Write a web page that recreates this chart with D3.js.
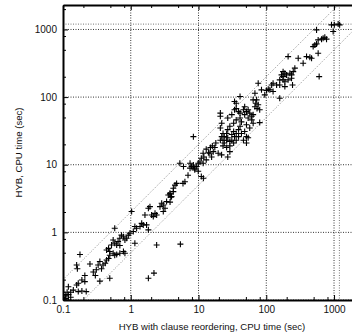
<!DOCTYPE html>
<html lang="en">
<head>
<meta charset="UTF-8">
<title>HYB scatter</title>
<script src="https://d3js.org/d3.v7.min.js" charset="utf-8"></script>
<style>
  body { margin: 0; background: #fff; overflow: hidden; }
  text { font-family: "Liberation Sans", Arial, sans-serif; }
</style>
</head>
<body>
<script>
// CPU times (sec): x = HYB with clause reordering, y = plain HYB
var reorderTimes = [
  0.1, 0.105, 0.11, 0.12, 0.1, 0.11, 0.1, 0.12, 0.13, 0.115, 0.1, 0.13, 0.12, 0.142, 0.168, 0.19, 0.22,
  0.168, 0.19, 0.21, 0.159, 0.178, 0.159, 0.163, 0.21, 0.25,
  0.28, 0.30, 0.31, 0.33, 0.35, 0.37, 0.39, 0.42, 0.44, 0.47, 0.49, 0.35, 0.49,
  0.44, 0.47, 0.49, 0.55, 0.58, 0.62, 0.58,
  0.55, 0.58, 0.62, 0.65, 0.69, 0.52,
  0.69, 0.78, 0.82,
  0.69, 0.73, 0.78, 0.82, 0.87, 0.92, 0.97,
  1.09, 1.22, 1.15, 1.37, 1.45, 1.53,
  1.03, 1.15, 1.71, 1.82, 1.82, 1.92,
  1.62, 2.03, 2.15, 2.28, 2.41,
  1.82, 2.2, 2.41,
  2.70, 2.86, 3.02, 3.20, 3.38, 3.02,
  3.58, 3.79, 4.0, 4.25, 4.5, 4.75, 4.25,
  3.8, 3.9, 3.8, 5.4,
  5.9, 6.3, 7.0, 7.5, 8.4, 8.8, 9.9, 11, 11.8,
  5.3, 7.5, 6.0,
  34, 36, 39, 41, 46, 48, 51, 54, 57, 61, 64, 68, 72, 70, 73, 80, 76, 64,
  54, 41, 43, 36, 33, 29, 27, 26, 24, 23, 27, 31, 33, 39, 41, 43, 48, 51, 57, 64, 61, 51,
  46, 36, 33, 29, 26, 23, 21, 21, 22, 21, 18, 16, 15, 13, 14, 12, 11, 10.5, 9.9, 9.4, 8.8,
  7.9, 8.4, 11.7, 13, 15.6, 16.5, 19.5, 21.9, 27, 29, 51, 54, 27, 31, 34, 80, 8.4, 21,
  23, 26, 24, 31, 34, 22, 36, 39, 29, 11.7, 14.7, 17.4,
  41, 76, 85, 36, 48, 68,
  95, 101, 107, 113, 120, 126, 126,
  142, 158, 158, 177, 188, 210, 236, 177, 168, 177, 188, 199, 223, 236, 250, 244, 188,
  158, 210, 296, 350, 264, 393, 440, 466,
  492, 521, 552, 583, 583, 603,
  654, 690, 731, 775, 552, 970,
  918, 1010, 1150, 1210
];
var hybTimes = [
  0.1, 0.1, 0.105, 0.1, 0.11, 0.115, 0.12, 0.12, 0.11, 0.13, 0.13, 0.13, 0.157, 0.14, 0.133, 0.136, 0.133,
  0.177, 0.198, 0.187, 0.167, 0.47, 0.33, 0.29, 0.23, 0.34,
  0.26, 0.23, 0.28, 0.33, 0.37, 0.29, 0.33, 0.35, 0.39, 0.41, 0.46, 0.19, 0.21,
  0.55, 0.58, 0.52, 0.49, 0.46, 0.47, 1.15,
  0.77, 0.69, 0.65, 0.73, 0.64, 0.65,
  0.49, 0.52, 0.49,
  0.82, 0.91, 0.86, 0.77, 0.82, 0.91, 0.97,
  1.03, 1.15, 1.22, 1.22, 1.36, 1.29,
  2.03, 0.69, 1.29, 1.09, 2.27, 2.40,
  1.81, 1.81, 1.71, 1.91, 1.81,
  0.21, 0.25, 0.65,
  2.40, 2.69, 2.54, 2.27, 2.85, 2.03,
  3.57, 3.79, 3.38, 4.0, 5.0, 5.3, 4.5,
  3.7, 3.3, 2.8, 0.67,
  5.3, 5.6, 7.0, 8.9, 9.4, 8.4, 8.0, 6.7, 6.3,
  10.5, 10.5, 9.4,
  65, 68, 61, 58, 65, 55, 61, 65, 58, 52, 55, 72, 91, 81, 68, 65, 77, 91,
  49, 49, 43, 46, 41, 37, 33, 29, 26, 23, 25, 28, 31, 33, 37, 29, 31, 26, 35, 41, 46, 39,
  23, 23, 21, 19, 18, 19, 23, 52, 41, 35, 21, 19, 18, 17, 15, 13, 12.5, 11, 10.5, 9.4, 8.9,
  9.4, 9.9, 10.5, 11.8, 13, 15.6, 14.8, 14, 13, 15.6, 21, 25, 49, 55, 86, 42, 26, 58,
  29, 23, 21, 23, 26, 26, 29, 26, 22, 14.8, 14.8, 18,
  102, 160, 128, 81, 72, 114,
  108, 125, 131, 128, 151, 160, 121,
  151, 151, 180, 180, 169, 180, 190, 201, 213, 238, 225, 213, 225, 213, 238, 151, 143,
  96, 397, 376, 317, 268, 397, 389, 376,
  558, 591, 612, 701, 446, 201,
  719, 743, 769, 719, 986, 931,
  1170, 1170, 1200, 1170
];

var majorTicks = [0.1, 1, 10, 100, 1000];
var tickLabels = ["0.1", "1", "10", "100", "1000"];
var minorTicks = [0.2, 0.5, 0.8, 2, 5, 8, 20, 50, 80, 200, 500, 800, 2000];
var timeoutSec = 1200;
var ratioLines = [2, 0.5];

var W = 352, H = 335;
var pLeft = 63, pTop = 5, pRight = 361, pBottom = 300;

var x = d3.scaleLog().domain([0.1, 2500]).range([pLeft, pRight]);
var y = d3.scaleLog().domain([0.1, 2300]).range([pBottom, pTop]);

var svg = d3.select("body").append("svg")
    .attr("width", W)
    .attr("height", H);

svg.append("clipPath").attr("id", "plot")
  .append("rect")
    .attr("x", pLeft).attr("y", pTop)
    .attr("width", pRight - pLeft).attr("height", pBottom - pTop);

var plot = svg.append("g").attr("clip-path", "url(#plot)");

// grid
majorTicks.forEach(function (t) {
  plot.append("line")
      .attr("x1", pLeft).attr("x2", pRight)
      .attr("y1", y(t)).attr("y2", y(t))
      .attr("stroke", "#000").attr("stroke-width", 0.8)
      .attr("stroke-dasharray", "1,1.5");
  plot.append("line")
      .attr("x1", x(t)).attr("x2", x(t))
      .attr("y1", pTop).attr("y2", pBottom)
      .attr("stroke", "#000").attr("stroke-width", 0.8)
      .attr("stroke-dasharray", "1,1.5");
});

// timeout lines
plot.append("line")
    .attr("x1", pLeft).attr("x2", pRight)
    .attr("y1", y(timeoutSec)).attr("y2", y(timeoutSec))
    .attr("stroke", "#555").attr("stroke-width", 0.8)
    .attr("stroke-dasharray", "1,1.5");
plot.append("line")
    .attr("x1", x(timeoutSec)).attr("x2", x(timeoutSec))
    .attr("y1", pTop).attr("y2", pBottom)
    .attr("stroke", "#555").attr("stroke-width", 0.8)
    .attr("stroke-dasharray", "1,1.5");

// y = 2x and y = x/2
ratioLines.forEach(function (r) {
  plot.append("line")
      .attr("x1", x(0.1 / Math.min(r, 1))).attr("y1", y(0.1 * Math.max(r, 1)))
      .attr("x2", x(2500)).attr("y2", y(2500 * r))
      .attr("stroke", "#666").attr("stroke-width", 0.7)
      .attr("stroke-dasharray", "1,1.5");
});

// points as "+"
var s = 3;
var pts = plot.selectAll("g.pt").data(reorderTimes).enter()
  .append("g").attr("class", "pt")
  .attr("transform", function (d, i) {
    return "translate(" + x(d) + "," + y(hybTimes[i]) + ")";
  });
pts.append("path")
    .attr("d", "M" + (-s) + ",0H" + s + "M0," + (-s) + "V" + s)
    .attr("stroke", "#000").attr("stroke-width", 1.1)
    .attr("fill", "none");

// axes
function styleAxis(g) {
  g.select(".domain").attr("stroke", "#000").attr("stroke-width", 2);
  g.selectAll(".tick line").attr("stroke", "#000");
  g.selectAll("text").attr("font-size", 10).attr("fill", "#111")
    .attr("font-family", "Liberation Sans, Arial, sans-serif");
}
function minorStyle(g) {
  g.select(".domain").remove();
  g.selectAll("line").attr("stroke", "#000");
}

svg.append("g")
    .attr("transform", "translate(" + pLeft + ",0)")
    .call(d3.axisLeft(y).tickValues(majorTicks)
      .tickFormat(function (d, i) { return tickLabels[i]; })
      .tickSize(-5).tickSizeOuter(0).tickPadding(6))
    .call(styleAxis);
svg.append("g")
    .attr("transform", "translate(" + pLeft + ",0)")
    .call(d3.axisLeft(y).tickValues(minorTicks).tickFormat("")
      .tickSize(-3).tickSizeOuter(0))
    .call(minorStyle);

svg.append("g")
    .attr("transform", "translate(0," + pBottom + ")")
    .call(d3.axisBottom(x).tickValues(majorTicks)
      .tickFormat(function (d, i) { return tickLabels[i]; })
      .tickSize(-5).tickSizeOuter(0).tickPadding(6))
    .call(styleAxis);
svg.append("g")
    .attr("transform", "translate(0," + pBottom + ")")
    .call(d3.axisBottom(x).tickValues(minorTicks).tickFormat("")
      .tickSize(-3).tickSizeOuter(0))
    .call(minorStyle);

svg.append("g")
    .attr("transform", "translate(0," + pTop + ")")
    .call(d3.axisTop(x).tickValues(majorTicks).tickFormat("")
      .tickSize(-5).tickSizeOuter(0))
    .call(styleAxis);
svg.append("g")
    .attr("transform", "translate(0," + pTop + ")")
    .call(d3.axisTop(x).tickValues(minorTicks).tickFormat("")
      .tickSize(-3).tickSizeOuter(0))
    .call(minorStyle);

// axis titles
svg.append("text")
    .attr("x", (pLeft + pRight) / 2).attr("y", 330)
    .attr("text-anchor", "middle").attr("font-size", 9.6).attr("fill", "#111")
    .text("HYB with clause reordering, CPU time (sec)");

svg.append("text")
    .attr("transform", "translate(22," + ((pTop + pBottom) / 2) + ") rotate(-90)")
    .attr("text-anchor", "middle").attr("font-size", 9.6).attr("fill", "#111")
    .text("HYB, CPU time (sec)");
</script>
</body>
</html>
